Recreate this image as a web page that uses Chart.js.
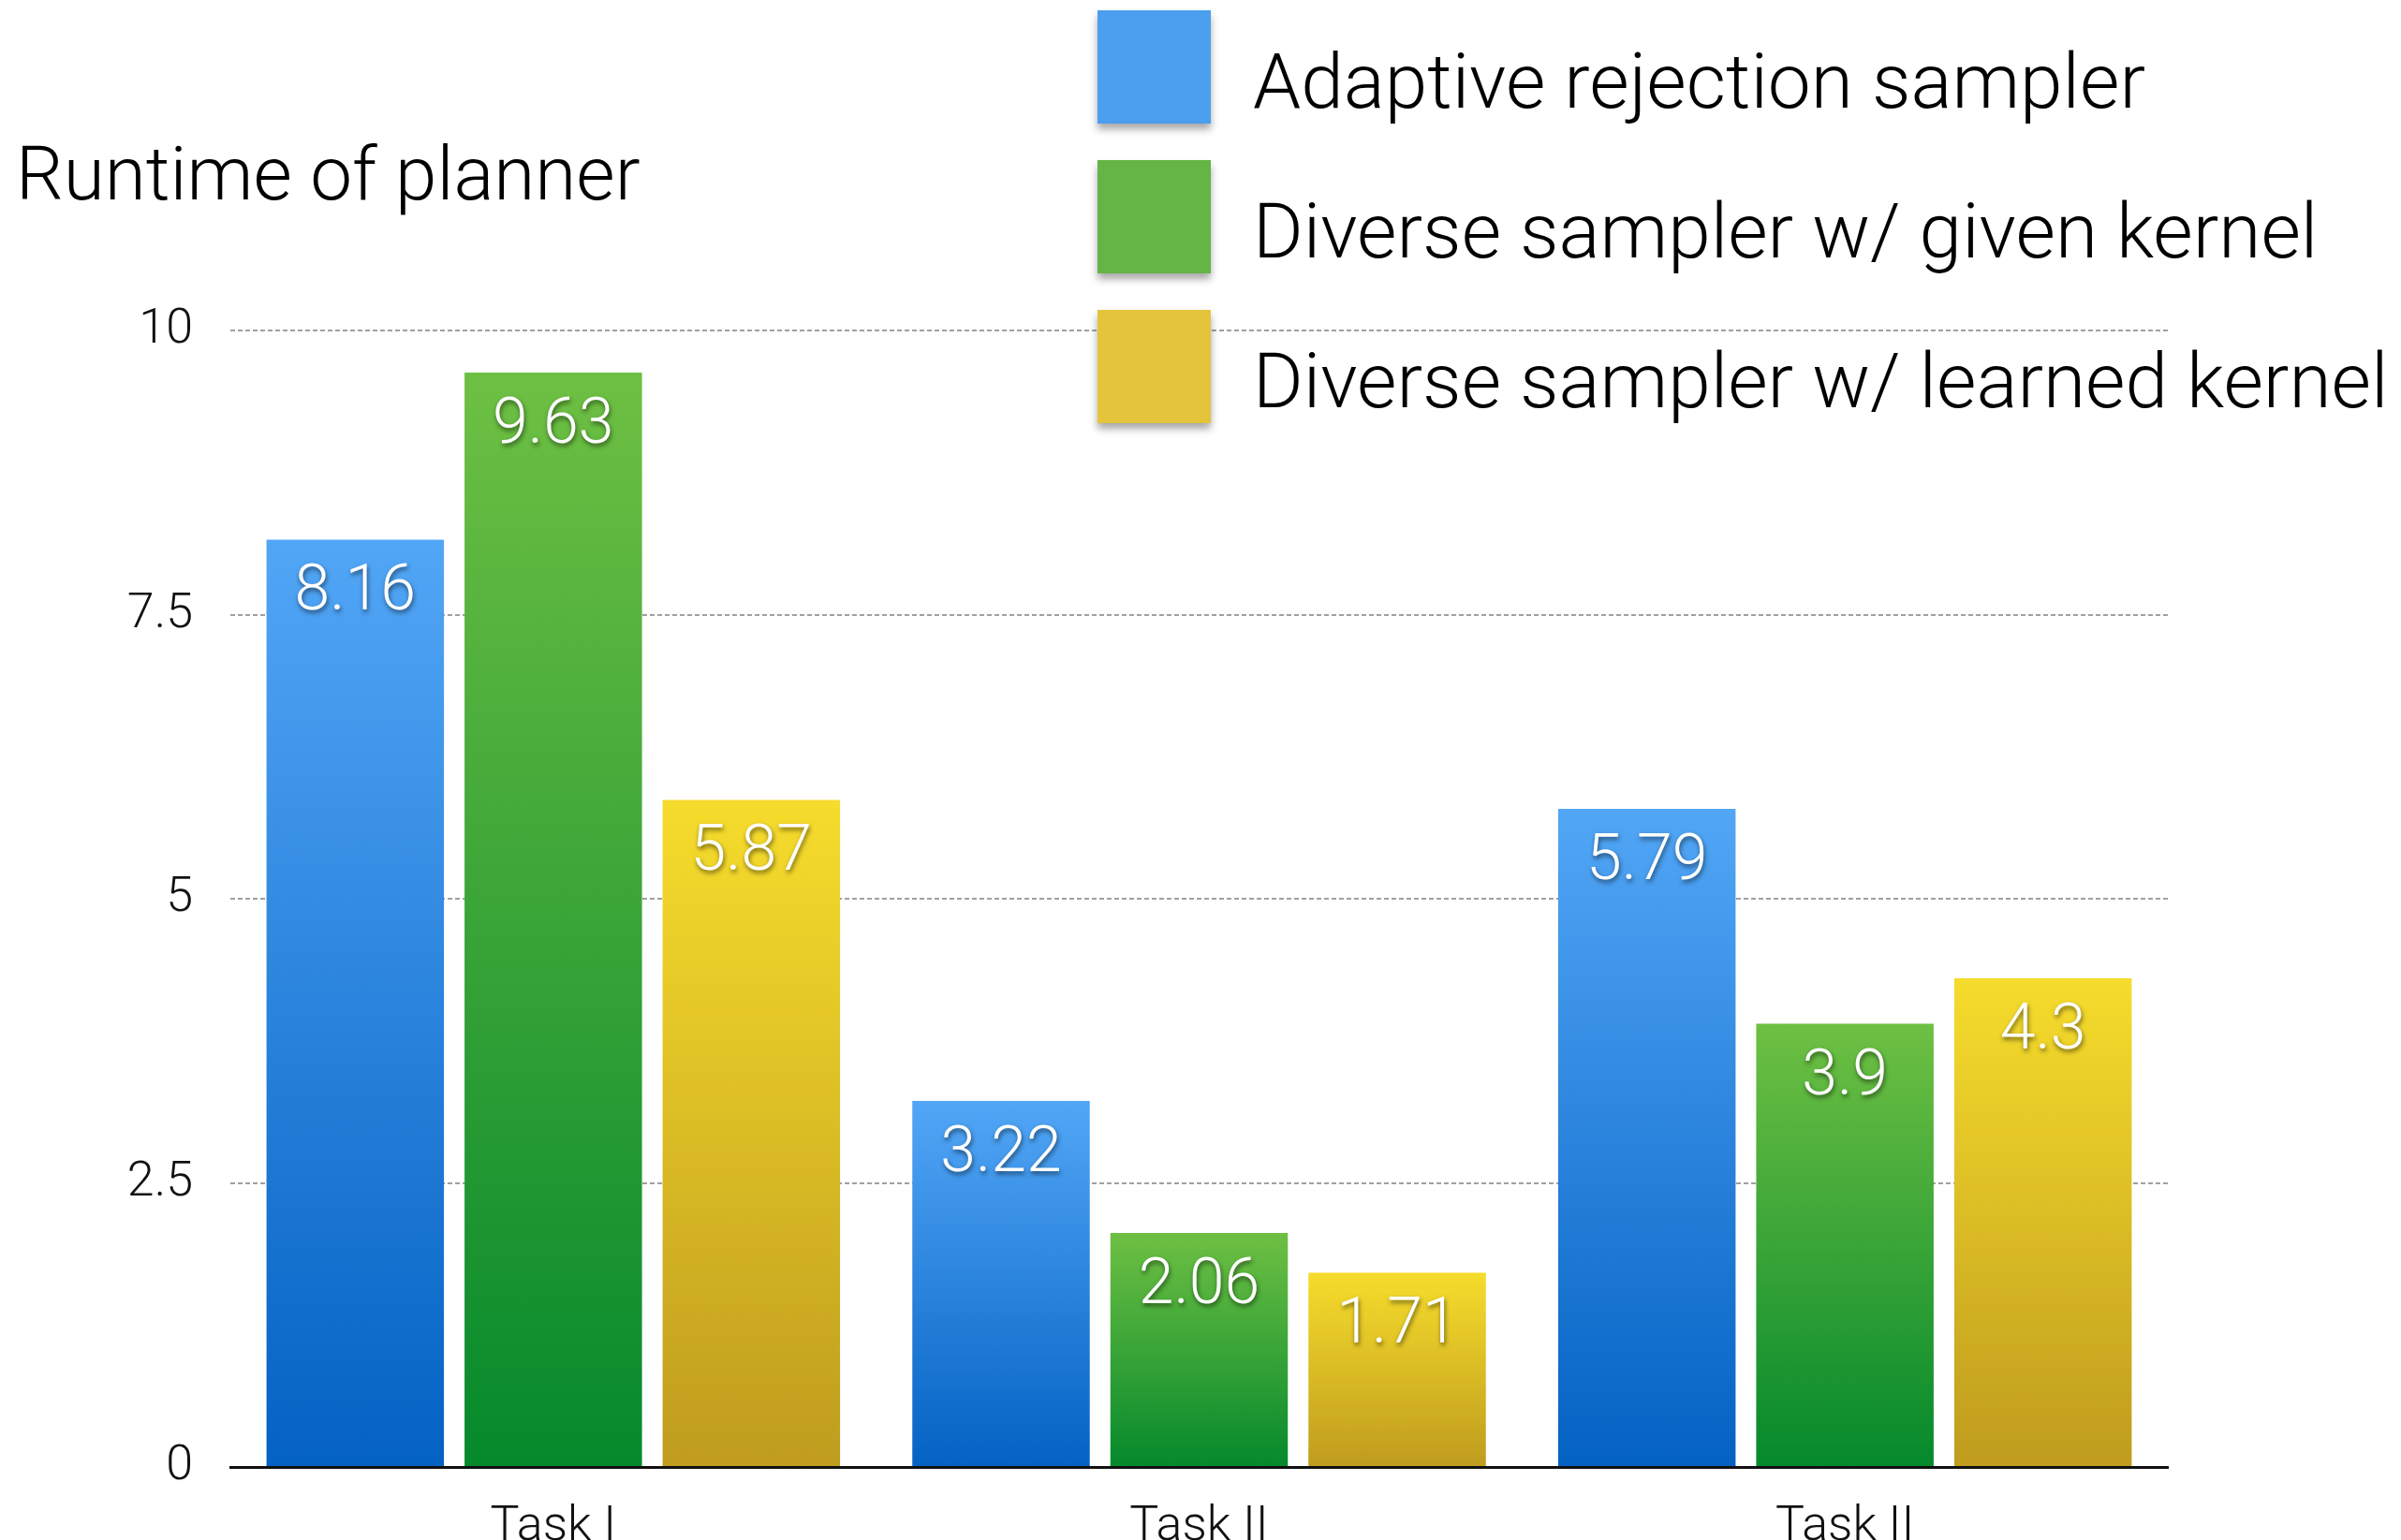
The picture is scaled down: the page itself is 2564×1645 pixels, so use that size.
<!DOCTYPE html>
<html>
<head>
<meta charset="utf-8">
<script src="https://cdn.jsdelivr.net/npm/chart.js@4.4.0/dist/chart.umd.min.js"></script>
<style>
html, body { margin: 0; padding: 0; background: #fff; overflow: hidden; }
</style>
</head>
<body>
<canvas id="runtime" width="2564" height="1645"></canvas>
<script>
// data
var categories = ['Task I', 'Task II', 'Task II'];
var seriesNames = ['Adaptive rejection sampler', 'Diverse sampler w/ given kernel', 'Diverse sampler w/ learned kernel'];
var adaptive = [8.16, 3.22, 5.79];
var diverseGiven = [9.63, 2.06, 3.9];
var diverseLearned = [5.87, 1.71, 4.3];
var yTicks = [0, 2.5, 5, 7.5, 10];

// colours
var swatch = ['#4b9fee', '#64b446', '#e3c43a'];
var gradTop = ['#52a6f6', '#6ec043', '#f6dc2c'];
var gradBottom = ['#0462c3', '#05892c', '#bf9c1e'];

var FONT = 'Roboto, "Liberation Sans", sans-serif';

// each bar gets its own top-to-bottom gradient
function barGradient(i) {
    return function (context) {
        var chart = context.chart;
        if (!chart.chartArea || context.type !== 'data') return swatch[i];
        var y = chart.scales.y;
        var top = y.getPixelForValue(context.raw);
        var bottom = y.getPixelForValue(0);
        var g = chart.ctx.createLinearGradient(0, top, 0, bottom);
        g.addColorStop(0, gradTop[i]);
        g.addColorStop(1, gradBottom[i]);
        return g;
    };
}

// white numbers inside the top of each bar
var valueLabels = {
    id: 'valueLabels',
    afterDatasetsDraw: function (chart) {
        var ctx = chart.ctx;
        ctx.save();
        ctx.font = '300 68px ' + FONT;
        ctx.fillStyle = '#fff';
        ctx.textAlign = 'center';
        ctx.textBaseline = 'middle';
        ctx.shadowColor = 'rgba(0,0,0,0.55)';
        ctx.shadowOffsetX = 1;
        ctx.shadowOffsetY = 3;
        ctx.shadowBlur = 5;
        chart.data.datasets.forEach(function (ds, i) {
            chart.getDatasetMeta(i).data.forEach(function (bar, j) {
                ctx.fillText(String(ds.data[j]), bar.x, bar.y + 58);
            });
        });
        ctx.restore();
    }
};

// title + legend in the top area
var header = {
    id: 'header',
    afterDraw: function (chart) {
        var ctx = chart.ctx;
        ctx.save();
        ctx.fillStyle = '#000';
        ctx.textBaseline = 'alphabetic';
        ctx.font = '300 80px ' + FONT;
        ctx.fillText('Runtime of planner', 17, 213);

        chart.data.datasets.forEach(function (ds, i) {
            var top = 11 + i * 160;
            ctx.save();
            ctx.shadowColor = 'rgba(0,0,0,0.35)';
            ctx.shadowOffsetY = 6;
            ctx.shadowBlur = 8;
            ctx.fillStyle = swatch[i];
            ctx.fillRect(1172, top, 121, 121);
            ctx.restore();
            ctx.fillStyle = '#000';
            ctx.font = '300 82px ' + FONT;
            ctx.fillText(ds.label, 1338, top + 104);
        });
        ctx.restore();
    }
};

var ctx = document.getElementById('runtime').getContext('2d');
var runtime = new Chart(ctx, {
    type: 'bar',
    data: {
        labels: categories,
        datasets: [{
            label: seriesNames[0],
            data: adaptive,
            backgroundColor: barGradient(0)
        }, {
            label: seriesNames[1],
            data: diverseGiven,
            backgroundColor: barGradient(1)
        }, {
            label: seriesNames[2],
            data: diverseLearned,
            backgroundColor: barGradient(2)
        }]
    },
    plugins: [valueLabels, header],
    options: {
        responsive: false,
        devicePixelRatio: 1,
        animation: false,
        categoryPercentage: 0.92,
        barPercentage: 0.896,
        layout: {
            padding: { top: 353, right: 249, left: 0, bottom: 0 }
        },
        plugins: {
            legend: { display: false },
            tooltip: { enabled: false }
        },
        scales: {
            x: {
                grid: { display: false, drawTicks: false },
                border: { display: true, color: '#111', width: 3 },
                ticks: {
                    font: { family: FONT, size: 52, weight: 300 },
                    color: '#111',
                    padding: 34
                },
                afterFit: function (s) { s.height = 78; }
            },
            y: {
                min: 0,
                max: 10,
                afterBuildTicks: function (s) {
                    s.ticks = yTicks.map(function (v) { return { value: v }; });
                },
                grid: { color: '#a0a0a0', lineWidth: 2, drawTicks: false },
                border: { display: false, dash: [5, 3] },
                ticks: {
                    font: { family: FONT, size: 52, weight: 300 },
                    color: '#111',
                    padding: 40,
                    callback: function (v) { return String(v); }
                },
                afterFit: function (s) { s.width = 246; }
            }
        }
    }
});
</script>
</body>
</html>
